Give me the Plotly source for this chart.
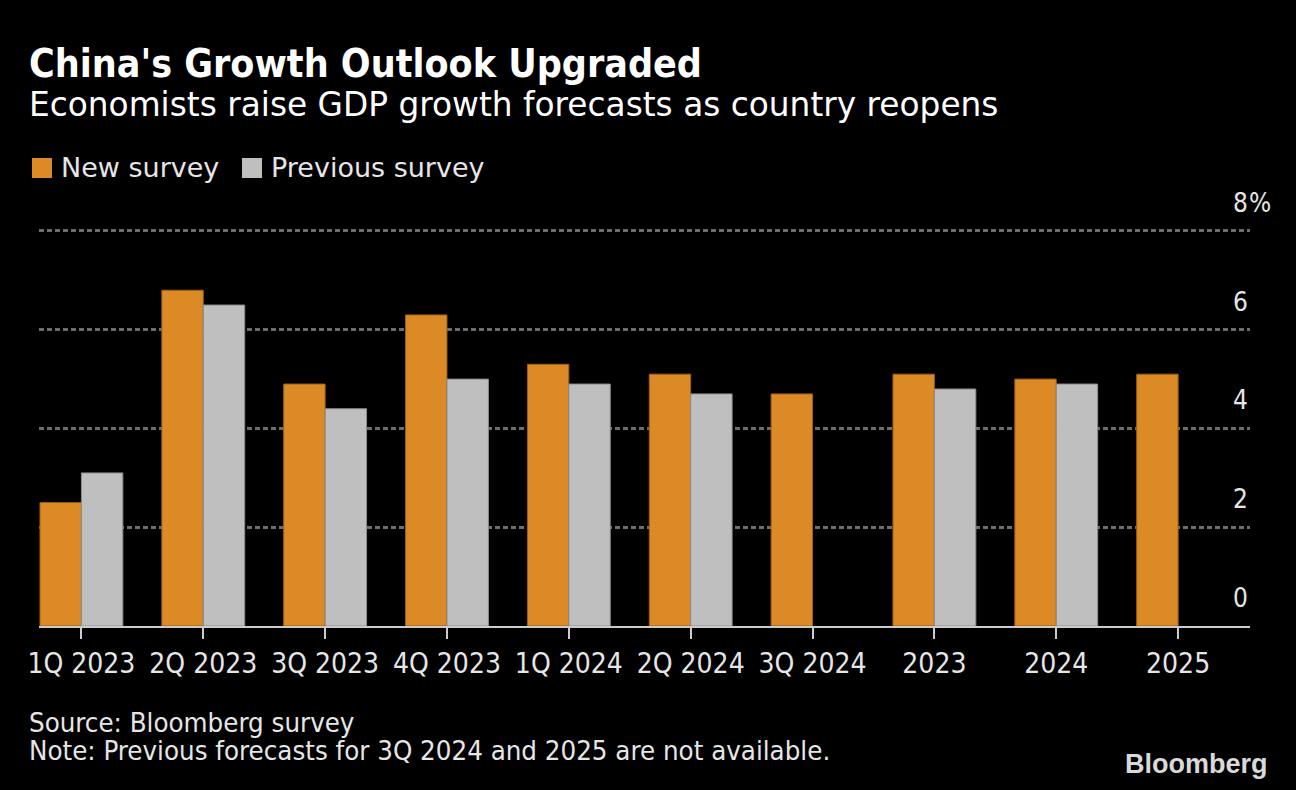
import plotly.graph_objects as go

categories = ["1Q 2023", "2Q 2023", "3Q 2023", "4Q 2023", "1Q 2024", "2Q 2024",
              "3Q 2024", "2023", "2024", "2025"]
new_survey = [2.5, 6.8, 4.9, 6.3, 5.3, 5.1, 4.7, 5.1, 5.0, 5.1]
previous_survey = [3.1, 6.5, 4.4, 5.0, 4.9, 4.7, None, 4.8, 4.9, None]
y_ticks = [0, 2, 4, 6, 8]

FONT = "DejaVu Sans Condensed, Liberation Sans Narrow, DejaVu Sans, sans-serif"
FONT_WIDE = "DejaVu Sans, Liberation Sans, sans-serif"
ORANGE = "#DB8A25"
GREY = "#BFBFBF"
TXT = "#E6E6E6"

W, H = 1296, 790
pl, pr, pt, pb = 39, 46, 229, 164
YMAX = 8.04

fig = go.Figure()
fig.add_trace(go.Bar(x=categories, y=new_survey, name="New survey",
                     marker=dict(color=ORANGE, line=dict(color="#9A5F16", width=1))))
fig.add_trace(go.Bar(x=categories, y=previous_survey, name="Previous survey",
                     marker=dict(color=GREY, line=dict(color="#8C8C8C", width=1))))

fig.update_layout(
    width=W, height=H,
    paper_bgcolor="black", plot_bgcolor="black",
    margin=dict(l=pl, r=pr, t=pt, b=pb),
    barmode="group", bargap=0.32, bargroupgap=0,
    showlegend=False,
    font=dict(family=FONT, color=TXT, size=26),
)
fig.update_xaxes(type="category", range=[-0.348, 9.59],
                 showline=True, linecolor="#CCCCCC", linewidth=2,
                 ticks="outside", ticklen=11, tickwidth=2, tickcolor="#CCCCCC",
                 tickfont=dict(family=FONT, size=28, color=TXT),
                 showgrid=False, fixedrange=True)
fig.update_yaxes(range=[0, YMAX], tickvals=y_ticks[1:], showticklabels=False,
                 showgrid=True, gridcolor="#6E6E6E", gridwidth=2.5, griddash="5px,3px",
                 zeroline=False, fixedrange=True)

# y tick labels (right side, above gridlines)
for v in y_ticks:
    fig.add_annotation(x=1, xref="paper", y=v, yref="y", text=str(v),
                       xanchor="right", yanchor="middle", yshift=28, showarrow=False,
                       font=dict(family=FONT, size=26, color=TXT))
fig.add_annotation(x=1, xref="paper", y=y_ticks[-1], yref="y", text="%",
                   xanchor="left", yanchor="middle", yshift=28, xshift=-3, showarrow=False,
                   font=dict(family=FONT, size=26, color=TXT))

pw, ph = W - pl - pr, H - pt - pb
def ppx(x):
    return (x - pl) / pw
def ppy(y):
    return (H - pb - y) / ph

fig.add_annotation(x=ppx(27), y=ppy(63), xref="paper", yref="paper",
                   text="<b>China's Growth Outlook Upgraded</b>", xanchor="left", yanchor="middle",
                   showarrow=False, font=dict(family=FONT, size=39, color="white"))
fig.add_annotation(x=ppx(27), y=ppy(105), xref="paper", yref="paper",
                   text="Economists raise GDP growth forecasts as country reopens",
                   xanchor="left", yanchor="middle",
                   showarrow=False, font=dict(family=FONT_WIDE, size=32.8, color="white"))

# Legend
legend_items = [("New survey", ORANGE, 32, 62), ("Previous survey", GREY, 242, 272)]
for label, color, sx, tx in legend_items:
    fig.add_shape(type="rect", xref="paper", yref="paper",
                  x0=ppx(sx), x1=ppx(sx + 20), y0=ppy(178), y1=ppy(158),
                  fillcolor=color, line=dict(width=0))
    fig.add_annotation(x=ppx(tx - 3), y=ppy(167), xref="paper", yref="paper",
                       text=label, xanchor="left", yanchor="middle", showarrow=False,
                       font=dict(family=FONT_WIDE, size=27, color=TXT))

# Footer
fig.add_annotation(x=ppx(27), y=ppy(722), xref="paper", yref="paper",
                   text="Source: Bloomberg survey", xanchor="left", yanchor="middle",
                   showarrow=False, font=dict(family=FONT, size=27.4, color=TXT))
fig.add_annotation(x=ppx(27), y=ppy(750), xref="paper", yref="paper",
                   text="Note: Previous forecasts for 3Q 2024 and 2025 are not available.",
                   xanchor="left", yanchor="middle",
                   showarrow=False, font=dict(family=FONT, size=27.4, color=TXT))
fig.add_annotation(x=ppx(1270), y=ppy(764), xref="paper", yref="paper",
                   text="<b>Bloomberg</b>", xanchor="right", yanchor="middle",
                   showarrow=False, font=dict(family="Liberation Sans, Arial, sans-serif",
                                              size=27, color="#D9D9D9"))

fig.write_html("out.html")
